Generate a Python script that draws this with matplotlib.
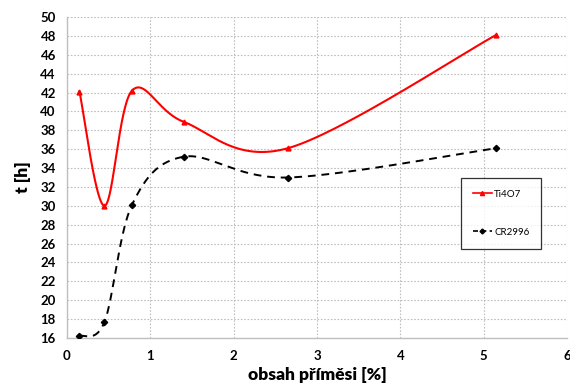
import numpy as np
import matplotlib
matplotlib.use("Agg")
import matplotlib.pyplot as plt

x_vals = [0.15, 0.45, 0.78, 1.4, 2.65, 5.15]
ti4o7 = [42.1, 30.0, 42.2, 38.9, 36.1, 48.1]
cr2996 = [16.2, 17.7, 30.1, 35.2, 33.0, 36.1]
series_names = ["Ti4O7", "CR2996"]
x_ticks = [0, 1, 2, 3, 4, 5, 6]
y_ticks = list(range(16, 51, 2))


def excel_smooth(xs, ys, n=60):
    p = np.column_stack([xs, ys]).astype(float)
    out = []
    for i in range(len(p) - 1):
        p0 = p[i - 1] if i > 0 else p[i]
        p1 = p[i]
        p2 = p[i + 1]
        p3 = p[i + 2] if i + 2 < len(p) else p[i + 1]
        c1 = p1 + (p2 - p0) / 6.0
        c2 = p2 - (p3 - p1) / 6.0
        t = np.linspace(0, 1, n)[:, None]
        seg = ((1 - t) ** 3) * p1 + 3 * ((1 - t) ** 2) * t * c1 + 3 * (1 - t) * t ** 2 * c2 + t ** 3 * p2
        out.append(seg if i == 0 else seg[1:])
    seg = np.vstack(out)
    return seg[:, 0], seg[:, 1]


plt.rcParams['font.family'] = ['Lato', 'DejaVu Sans']
fig = plt.figure(figsize=(5.7, 3.83), dpi=100)
ax = fig.add_axes([0.1175, 0.1175, 0.8772, 0.8381])

sx, sy = excel_smooth(x_vals, ti4o7)
ax.plot(sx, sy, color='#ff0000', lw=1.5, zorder=3)
ax.plot(x_vals, ti4o7, ls='none', marker='^', ms=3.5, color='#ff0000', zorder=4)
sx, sy = excel_smooth(x_vals, cr2996)
ax.plot(sx, sy, color='black', lw=1.4, ls=(0, (4, 3)), zorder=3)
ax.plot(x_vals, cr2996, ls='none', marker='D', ms=3.2, color='black', zorder=4)

# legend proxies
h1, = ax.plot([], [], color='#ff0000', lw=1.2, marker='^', ms=3)
h2, = ax.plot([], [], color='black', lw=1.2, ls=(0, (3, 2)), marker='D', ms=2.5)

ax.set_xlim(0, 6)
ax.set_ylim(16, 50)
ax.set_xticks(x_ticks)
ax.set_yticks(y_ticks)
ax.grid(True, color='#bfbfbf', ls=(0, (1.5, 1.5)), lw=0.8)
ax.set_axisbelow(True)
for s in ['top', 'right']:
    ax.spines[s].set_visible(False)
for s in ['left', 'bottom']:
    ax.spines[s].set_color('#bfbfbf')
    ax.spines[s].set_linewidth(1.0)
ax.tick_params(length=0, labelsize=9.5)
for lab in ax.get_xticklabels() + ax.get_yticklabels():
    lab.set_fontweight('bold')
ax.tick_params(axis='y', pad=8)
ax.tick_params(axis='x', pad=9)

ax.set_xlabel('obsah příměsi [%]', fontsize=12.5, fontweight='heavy', labelpad=3)
ax.set_ylabel('t [h]', fontsize=12.5, fontweight='heavy', labelpad=7)

leg = fig.legend([h1, h2], series_names, loc='upper left',
                 bbox_to_anchor=(461 / 570, 1 - 178 / 383), fontsize=7,
                 frameon=True, fancybox=False, edgecolor='black',
                 handlelength=2.0, handletextpad=0.2, labelspacing=3.0,
                 borderpad=1.2, borderaxespad=0)
leg.get_frame().set_linewidth(0.9)

fig.savefig('out.png', dpi=100)
